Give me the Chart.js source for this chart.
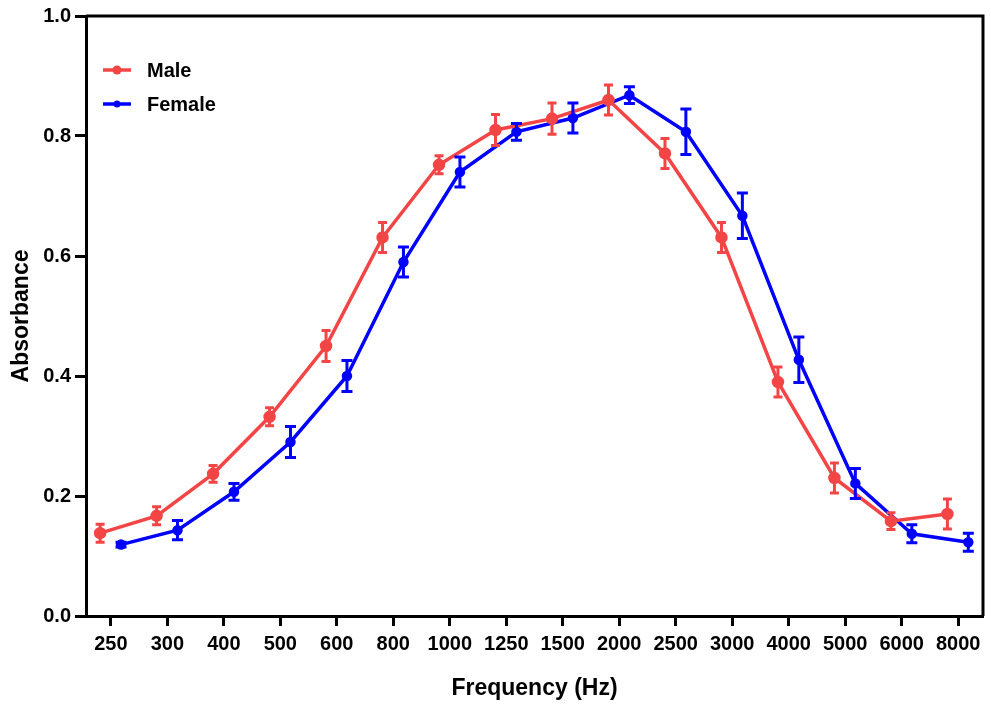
<!DOCTYPE html>
<html>
<head>
<meta charset="utf-8">
<script src="https://cdn.jsdelivr.net/npm/chart.js@4.4.1/dist/chart.umd.min.js"></script>
<style>
  html, body { margin: 0; padding: 0; background: #fff; }
</style>
</head>
<body>
<canvas id="myChart" width="991" height="706"></canvas>
<script>
// frequencies on the x axis (categories)
const freqLabels = ['250', '300', '400', '500', '600', '800', '1000', '1250', '1500',
                    '2000', '2500', '3000', '4000', '5000', '6000', '8000'];

// male absorbance, mean and error
const maleMean = [0.138, 0.167, 0.237, 0.332, 0.450, 0.631, 0.752, 0.810, 0.829,
                  0.860, 0.771, 0.631, 0.390, 0.230, 0.158, 0.170];
const maleErr  = [0.015, 0.015, 0.014, 0.015, 0.026, 0.025, 0.015, 0.026, 0.026,
                  0.025, 0.025, 0.025, 0.025, 0.025, 0.014, 0.025];

// female absorbance, mean and error
const femaleMean = [0.119, 0.143, 0.207, 0.290, 0.400, 0.590, 0.740, 0.807, 0.830,
                    0.868, 0.807, 0.667, 0.427, 0.221, 0.137, 0.123];
const femaleErr  = [0.004, 0.016, 0.014, 0.026, 0.026, 0.025, 0.025, 0.014, 0.025,
                    0.014, 0.038, 0.038, 0.038, 0.025, 0.015, 0.015];

const yTicks = [0, 0.2, 0.4, 0.6, 0.8, 1.0];

const RED = '#f34545';
const BLUE = '#0000ff';
const FONT = 'Liberation Sans, Arial, sans-serif';

// male points sit left of the tick, female right of it
function toPoints(vals, shift) {
    return vals.map((v, i) => ({ x: i + shift, y: v }));
}

const errorBars = {
    id: 'errorBars',
    afterDatasetsDraw(chart) {
        const ctx = chart.ctx;
        const yScale = chart.scales.y;
        chart.data.datasets.forEach((ds, di) => {
            const meta = chart.getDatasetMeta(di);
            ctx.save();
            ctx.strokeStyle = ds.borderColor;
            ctx.lineWidth = 3;
            meta.data.forEach((pt, i) => {
                const top = yScale.getPixelForValue(ds.mean[i] + ds.err[i]);
                const bot = yScale.getPixelForValue(ds.mean[i] - ds.err[i]);
                const half = ds.capHalf;
                ctx.beginPath();
                ctx.moveTo(pt.x, top);
                ctx.lineTo(pt.x, bot);
                ctx.moveTo(pt.x - half, top);
                ctx.lineTo(pt.x + half, top);
                ctx.moveTo(pt.x - half, bot);
                ctx.lineTo(pt.x + half, bot);
                ctx.stroke();
            });
            ctx.restore();
        });
    }
};

const frameBox = {
    id: 'frameBox',
    afterDraw(chart) {
        const { ctx, chartArea: a } = chart;
        ctx.save();
        ctx.strokeStyle = '#000';
        ctx.lineWidth = 3;
        ctx.beginPath();
        ctx.moveTo(a.left, a.top);
        ctx.lineTo(a.right, a.top);
        ctx.lineTo(a.right, a.bottom);
        ctx.stroke();
        ctx.restore();
    }
};

const insideLegend = {
    id: 'insideLegend',
    afterDraw(chart) {
        const ctx = chart.ctx;
        const a = chart.chartArea;
        ctx.save();
        chart.data.datasets.forEach((ds, i) => {
            const y = a.top + 54 + i * 34;
            const x0 = a.left + 17;
            ctx.strokeStyle = ds.borderColor;
            ctx.lineWidth = 3.5;
            ctx.beginPath();
            ctx.moveTo(x0, y);
            ctx.lineTo(x0 + 28, y);
            ctx.stroke();
            ctx.fillStyle = ds.borderColor;
            ctx.beginPath();
            ctx.arc(x0 + 14, y, ds.pointRadius, 0, Math.PI * 2);
            ctx.fill();
            ctx.fillStyle = '#000';
            ctx.font = 'bold 20px ' + FONT;
            ctx.textBaseline = 'middle';
            ctx.fillText(ds.label, x0 + 44, y + 1);
        });
        ctx.restore();
    }
};

const ctx = document.getElementById('myChart').getContext('2d');
const chart = new Chart(ctx, {
    type: 'line',
    data: {
        datasets: [{
            label: 'Male',
            data: toPoints(maleMean, -0.19),
            mean: maleMean,
            err: maleErr,
            capHalf: 4.5,
            borderColor: RED,
            backgroundColor: RED,
            borderWidth: 3.5,
            pointRadius: 4.5,
            pointStyle: 'circle',
            tension: 0
        }, {
            label: 'Female',
            data: toPoints(femaleMean, 0.18),
            mean: femaleMean,
            err: femaleErr,
            capHalf: 5.5,
            borderColor: BLUE,
            backgroundColor: BLUE,
            borderWidth: 3.5,
            pointRadius: 3.5,
            pointStyle: 'circle',
            tension: 0
        }]
    },
    options: {
        responsive: false,
        animation: false,
        layout: { padding: { left: 0, top: 16, right: 5, bottom: 0 } },
        plugins: {
            legend: { display: false },
            tooltip: { enabled: false }
        },
        scales: {
            x: {
                type: 'linear',
                min: -0.44,
                max: 15.44,
                afterBuildTicks: (scale) => {
                    scale.ticks = freqLabels.map((l, i) => ({ value: i }));
                },
                afterFit: (scale) => { scale.height = 90; },
                grid: {
                    drawOnChartArea: false,
                    drawTicks: true,
                    tickLength: 10,
                    tickWidth: 3,
                    tickColor: '#000'
                },
                border: { display: true, color: '#000', width: 3 },
                ticks: {
                    autoSkip: false,
                    maxRotation: 0,
                    padding: 6,
                    color: '#000',
                    font: { family: FONT, size: 20, weight: 'bold' },
                    callback: (v) => freqLabels[v]
                },
                title: {
                    display: true,
                    text: 'Frequency (Hz)',
                    color: '#000',
                    font: { family: FONT, size: 23, weight: 'bold' },
                    padding: { top: 0, bottom: 4 }
                }
            },
            y: {
                min: 0,
                max: 1,
                afterBuildTicks: (scale) => {
                    scale.ticks = yTicks.map(v => ({ value: v }));
                },
                afterFit: (scale) => { scale.width = 86; },
                grid: {
                    drawOnChartArea: false,
                    drawTicks: true,
                    tickLength: 11,
                    tickWidth: 3,
                    tickColor: '#000'
                },
                border: { display: true, color: '#000', width: 3 },
                ticks: {
                    padding: 4,
                    color: '#000',
                    font: { family: FONT, size: 20, weight: 'bold' },
                    callback: (v) => v.toFixed(1)
                },
                title: {
                    display: true,
                    text: 'Absorbance',
                    color: '#000',
                    font: { family: FONT, size: 23, weight: 'bold' },
                    padding: { top: 8, bottom: 0 }
                }
            }
        }
    },
    plugins: [errorBars, frameBox, insideLegend]
});
</script>
</body>
</html>
